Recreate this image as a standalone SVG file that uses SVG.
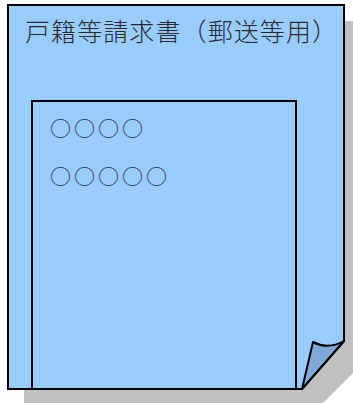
<svg xmlns="http://www.w3.org/2000/svg" width="353" height="403" viewBox="0 0 353 403">
<style>
.pg{fill:#99CCFF;stroke:#000;stroke-width:2;stroke-linejoin:miter}
.sh{fill:#C0C0C0}
.curl{fill:#80AAD5;stroke:#000;stroke-width:2;stroke-linejoin:round}
.t{font-family:"Noto Sans CJK JP","Noto Sans CJK SC",sans-serif;fill:#2a2a2a;font-weight:300}
.c{fill:#2a3340;font-weight:400}
</style>
<rect width="353" height="403" fill="#fff"/>
<g id="page">
<path class="sh" d="M24,21 H353 V373 L323,403 H24 Z"/>
<path class="pg" d="M8,5 H344 V341 L302,389 H8 Z"/>
<path class="curl" d="M344,341 Q328,350 313,342 L302,389 Z"/>
<text class="t" x="25" y="41" font-size="25" textLength="312" lengthAdjust="spacing">戸籍等請求書（郵送等用）</text>
</g>
<g id="inner">
<path fill="none" stroke="#000" stroke-width="2" d="M32,389 V101 H296 V389"/>
<text class="t c" x="50" y="136" font-size="21" textLength="93" lengthAdjust="spacing">○○○○</text>
<text class="t c" x="50" y="184" font-size="21" textLength="117" lengthAdjust="spacing">○○○○○</text>
</g>
<g id="connectors"/>
</svg>
